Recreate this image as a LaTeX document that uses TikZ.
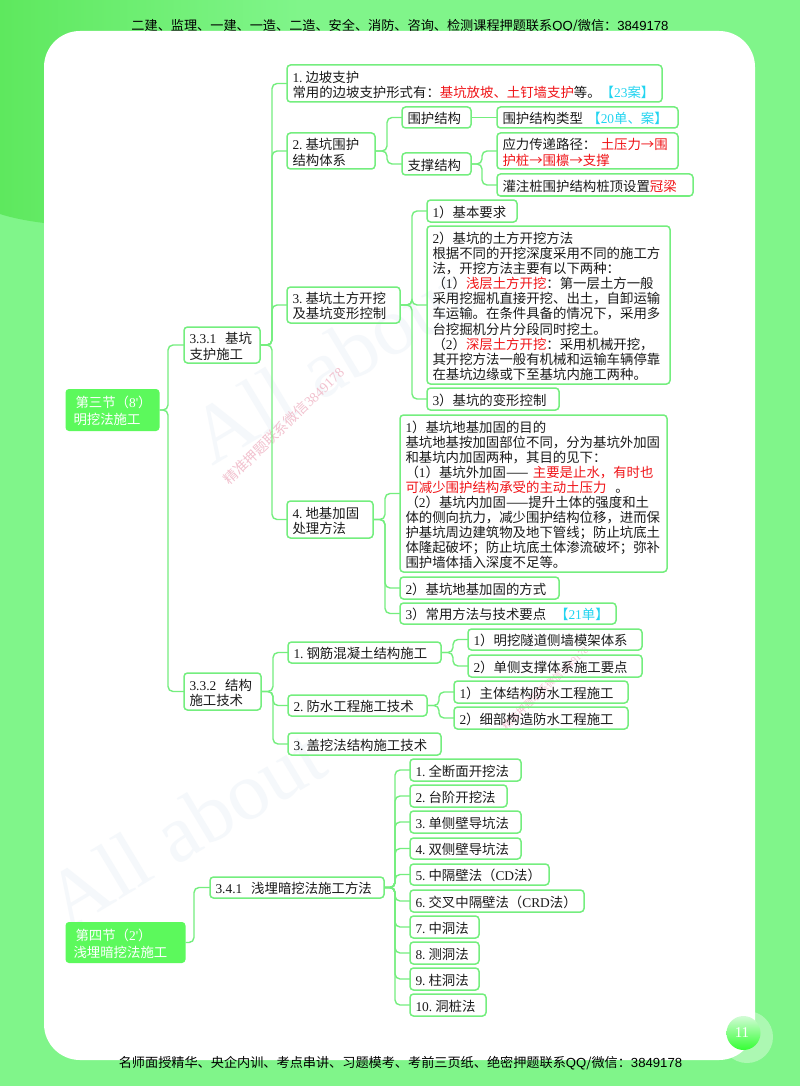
\documentclass[tikz,border=0pt]{standalone}
\usepackage{fontspec}
\setmainfont{Noto Sans CJK SC}[Scale=1]
\newfontfamily\latfont{Liberation Serif}
\newfontfamily\hdlat{Liberation Sans}
\newcommand{\LS}[1]{{\latfont #1}}
\newcommand{\nm}[1]{{\latfont #1}\kern3pt}
\newcommand{\rd}[1]{\textcolor{redtxt}{#1}}
\newcommand{\cy}[1]{\textcolor{cyantxt}{#1}}
\definecolor{bggreen}{HTML}{80F58A}
\definecolor{dkgreen}{HTML}{5EE85E}
\definecolor{linegreen}{HTML}{74EE7E}
\definecolor{secgreen}{HTML}{5CF95C}
\definecolor{redtxt}{HTML}{F01418}
\definecolor{cyantxt}{HTML}{22D4F0}
\definecolor{wmgrey}{HTML}{F5F8FB}
\definecolor{wmpink}{HTML}{F2C2CF}
\definecolor{txt}{HTML}{1A1A1A}
\tikzset{
  boxbase/.style={rectangle,rounded corners=3.5pt,inner xsep=5pt,inner ysep=0pt,outer sep=0pt,
    font=\fontsize{13.4}{15.1}\selectfont,align=left},
  itembox/.style={boxbase,draw=linegreen,line width=1.5pt,text=txt},
  secbox/.style={boxbase,fill=secgreen,text=white,inner xsep=8pt},
  conn/.style={draw=linegreen,line width=1.4pt,rounded corners=5pt},
  hdtext/.style={font=\fontsize{13.15}{15}\selectfont,text=black,inner sep=0pt},
  bigmark/.style={font=\fontsize{82}{84}\selectfont\latfont,text=wmgrey,inner sep=0pt,anchor=south west},
  pinkmark/.style={text=wmpink,inner sep=0pt},
}
% #1 style #2 name #3 x1 #4 y1 #5 x2 #6 y2 #7 text
\newcommand{\bx}[7]{\node[#1,minimum width={(#5-#3)*1pt},minimum height={(#6-#4)*1pt},
   text width={(#5-#3-11)*1pt}] (#2) at ({(#3+#5)/2},{(#4+#6)/2}) {\rule{0pt}{14pt}#7};}
\newcommand{\lnk}[3]{\draw[conn] (#1) -- (#2 |- #1) |- (#3);}
\begin{document}
\begin{tikzpicture}[x=1pt,y=-1pt]
\useasboundingbox (0,0) rectangle (800,1086);
% background
\fill[bggreen] (0,0) rectangle (800,1086);
\shade[left color=dkgreen,right color=bggreen] (0,0) -- (300,0) -- (300,230) -- (44,223)
   .. controls (28,221) and (12,218) .. (0,214) -- cycle;
\node[hdtext] (head) at (400,26) {二建、监理、一建、一造、二造、安全、消防、咨询、检测课程押题联系{\hdlat QQ}/微信：{\hdlat 3849178}};
\fill[white,rounded corners=36pt] (44,31) rectangle (755,1060);
% halo and page number
\fill[white,opacity=.35] (747,1037) circle (26);
\shade[top color=bggreen!35!white,bottom color=green!80!white,shading angle=0] (743.5,1033) circle (17);
\node[font=\fontsize{15}{16}\latfont\selectfont,text=white,inner sep=0pt] (pg) at (742,1033) {11};
\node[hdtext] (foot) at (400.5,1063) {名师面授精华、央企内训、考点串讲、习题模考、考前三页纸、绝密押题联系{\hdlat QQ}/微信：{\hdlat 3849178}};
% watermarks
\node[bigmark,rotate=31] (wma) at (68,932) {All about};
\node[bigmark,rotate=31] (wmb) at (213,467) {All about};
\node[pinkmark,rotate=44,font=\fontsize{14}{15}\selectfont] (wmc) at (283.5,426) {精准押题联系微信{\latfont 3849178}};
\node[pinkmark,rotate=44,font=\fontsize{10}{11}\selectfont] (wmd) at (545,688) {精准押题联系微信{\latfont 3849178}};
% bus coordinates
\coordinate (b0) at (168,0);
\coordinate (b1) at (272,0);
\coordinate (b2) at (387,0);
\coordinate (b3) at (482,0);
\coordinate (b4) at (412,0);
\coordinate (b5) at (385,0);
\coordinate (b6) at (273,0);
\coordinate (b7) at (453,0);
\coordinate (b8) at (439,0);
\coordinate (b9) at (194,0);
\coordinate (b10) at (395,0);
% nodes
\bx{secbox}{s3}{68}{389}{157}{431}{\kern2pt第三节（\LS{8'}）\\\kern2pt明挖法施工}
\bx{secbox}{s4}{68}{922}{183}{963}{\kern2pt第四节（\LS{2'}）\\\kern2pt浅埋暗挖法施工}
\bx{itembox}{a1}{184}{327}{260}{363}{\LS{3.3.1}\ \ 基坑\\支护施工}
\bx{itembox}{a2}{184}{673}{261}{710}{\LS{3.3.2}\ \ 结构\\施工技术}
\bx{itembox}{c1}{287}{65}{662}{102}{\nm{1.}边坡支护\\常用的边坡支护形式有：\rd{基坑放坡、土钉墙支护}等。\cy{【\LS{23}案】}}
\bx{itembox}{c2}{287}{133}{375}{169}{\nm{2.}基坑围护\\结构体系}
\bx{itembox}{c3}{287}{287}{400}{323}{\nm{3.}基坑土方开挖\\及基坑变形控制}
\bx{itembox}{c4}{287}{501}{373}{538}{\nm{4.}地基加固\\处理方法}
\bx{itembox}{d1}{402}{107}{471}{128}{围护结构}
\bx{itembox}{d2}{402}{153}{471}{175}{支撑结构}
\bx{itembox}{e1}{497}{107}{678}{128}{围护结构类型 \cy{【\LS{20}单、案】}}
\bx{itembox}{e2}{497}{133}{678}{169}{应力传递路径：\ \rd{土压力→围\\护桩→围檩→支撑}}
\bx{itembox}{e3}{497}{174}{693}{196}{灌注桩围护结构桩顶设置\rd{冠梁}}
\bx{itembox}{f1}{427}{200}{517}{222}{\LS{1}）基本要求}
\bx{itembox}{f2}{427}{226}{670}{384}{\LS{2}）基坑的土方开挖方法\\根据不同的开挖深度采用不同的施工方\\法，开挖方法主要有以下两种：\\（\LS{1}）\rd{浅层土方开挖}：第一层土方一般\\采用挖掘机直接开挖、出土，自卸运输\\车运输。在条件具备的情况下，采用多\\台挖掘机分片分段同时挖土。\\（\LS{2}）\rd{深层土方开挖}：采用机械开挖，\\其开挖方法一般有机械和运输车辆停靠\\在基坑边缘或下至基坑内施工两种。}
\bx{itembox}{f3}{427}{388}{559}{410}{\LS{3}）基坑的变形控制}
\bx{itembox}{g1}{400}{415}{667}{572}{\LS{1}）基坑地基加固的目的\\基坑地基按加固部位不同，分为基坑外加固\\和基坑内加固两种，其目的见下：\\（\LS{1}）基坑外加固—— \rd{主要是止水，有时也\\可减少围护结构承受的主动土压力}\ \ 。\\（\LS{2}）基坑内加固——提升土体的强度和土\\体的侧向抗力，减少围护结构位移，进而保\\护基坑周边建筑物及地下管线；防止坑底土\\体隆起破坏；防止坑底土体渗流破坏；弥补\\围护墙体插入深度不足等。}
\bx{itembox}{g2}{400}{577}{559}{599}{\LS{2}）基坑地基加固的方式}
\bx{itembox}{g3}{400}{603}{616}{624}{\LS{3}）常用方法与技术要点\ \ \cy{【\LS{21}单】}}
\bx{itembox}{h1}{288}{642}{441}{663}{\nm{1.}钢筋混凝土结构施工}
\bx{itembox}{h2}{288}{695}{427}{716}{\nm{2.}防水工程施工技术}
\bx{itembox}{h3}{288}{733}{441}{755}{\nm{3.}盖挖法结构施工技术}
\bx{itembox}{i1}{468}{629}{642}{650}{\LS{1}）明挖隧道侧墙模架体系}
\bx{itembox}{i2}{468}{655}{642}{677}{\LS{2}）单侧支撑体系施工要点}
\bx{itembox}{j1}{454}{681}{628}{703}{\LS{1}）主体结构防水工程施工}
\bx{itembox}{j2}{454}{707}{628}{729}{\LS{2}）细部构造防水工程施工}
\bx{itembox}{k0}{210}{877}{384}{898}{\LS{3.4.1}\ \ 浅埋暗挖法施工方法}
\bx{itembox}{m1}{410}{759}{521}{781}{\nm{1.}全断面开挖法}
\bx{itembox}{m2}{410}{785}{507}{807}{\nm{2.}台阶开挖法}
\bx{itembox}{m3}{410}{811}{521}{833}{\nm{3.}单侧壁导坑法}
\bx{itembox}{m4}{410}{838}{521}{859}{\nm{4.}双侧壁导坑法}
\bx{itembox}{m5}{410}{864}{549}{885}{\nm{5.}中隔壁法（\LS{CD}法）}
\bx{itembox}{m6}{410}{890}{584}{912}{\nm{6.}交叉中隔壁法（\LS{CRD}法）}
\bx{itembox}{m7}{410}{916}{479}{938}{\nm{7.}中洞法}
\bx{itembox}{m8}{410}{942}{479}{964}{\nm{8.}测洞法}
\bx{itembox}{m9}{410}{968}{479}{990}{\nm{9.}柱洞法}
\bx{itembox}{m10}{410}{994}{486}{1016}{\nm{10.}洞桩法}
% connectors
\foreach \c in {a1,a2} {\lnk{s3.east}{b0}{\c.west}}
\foreach \c in {c1,c2,c3,c4} {\lnk{a1.east}{b1}{\c.west}}
\foreach \c in {d1,d2} {\lnk{c2.east}{b2}{\c.west}}
\draw[conn] (d1.east) -- (e1.west);
\foreach \c in {e2,e3} {\lnk{d2.east}{b3}{\c.west}}
\foreach \c in {f1,f2,f3} {\lnk{c3.east}{b4}{\c.west}}
\foreach \c in {g1,g2,g3} {\lnk{c4.east}{b5}{\c.west}}
\foreach \c in {h1,h2,h3} {\lnk{a2.east}{b6}{\c.west}}
\foreach \c in {i1,i2} {\lnk{h1.east}{b7}{\c.west}}
\foreach \c in {j1,j2} {\lnk{h2.east}{b8}{\c.west}}
\lnk{s4.east}{b9}{k0.west}
\foreach \c in {m1,m2,m3,m4,m5,m6,m7,m8,m9,m10} {\lnk{k0.east}{b10}{\c.west}}
\end{tikzpicture}
\end{document}
